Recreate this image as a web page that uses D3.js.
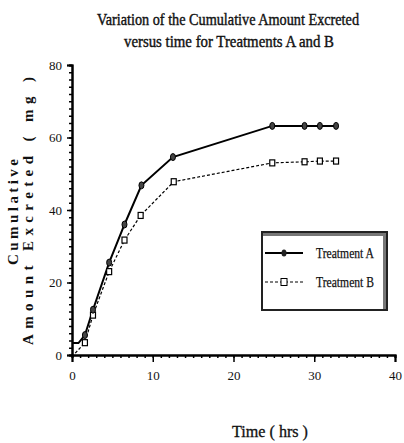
<!DOCTYPE html>
<html>
<head>
<meta charset="utf-8">
<script src="https://cdn.jsdelivr.net/npm/d3@7"></script>
<style>
  body { margin: 0; background: #fff; }
  text { font-family: "Liberation Serif", serif; fill: #111; }
</style>
</head>
<body>
<div class="canvas"></div>
<script>
// data
const timeA = [0, 0.8, 1.6, 2.6, 4.6, 6.5, 8.6, 12.5, 24.8, 28.8, 30.7, 32.7]
const amountA = [3.3, 3.3, 5.5, 12.5, 25.5, 36, 46.8, 54.6, 63.2, 63.2, 63.2, 63.2]
const timeB = [0.4, 1.6, 2.6, 4.6, 6.5, 8.5, 12.6, 24.8, 28.8, 30.7, 32.7]
const amountB = [0.5, 3.4, 11, 23, 31.7, 38.5, 47.8, 53, 53.3, 53.5, 53.5]
const xTicks = [0, 10, 20, 30, 40]
const yTicks = [0, 20, 40, 60, 80]
const seriesNames = ['Treatment A', 'Treatment B']

const W = 404, H = 443
const svg = d3.select('.canvas').append('svg').attr('width', W).attr('height', H)

const margin = {top: 65, right: 9, bottom: 88, left: 72}
const graphWidth = W - margin.left - margin.right
const graphHeight = H - margin.top - margin.bottom

const x = d3.scaleLinear().domain([0, 40]).range([0, graphWidth])
const y = d3.scaleLinear().domain([0, 80]).range([graphHeight, 0])

const graph = svg.append('g').attr('transform', `translate(${margin.left}, ${margin.top})`)

// title
svg.append('text').attr('x', 228).attr('y', 25).attr('text-anchor', 'middle')
    .attr('font-size', 16).attr('textLength', 262).attr('lengthAdjust', 'spacingAndGlyphs')
    .attr('stroke', '#111').attr('stroke-width', 0.4)
    .text('Variation of the Cumulative Amount Excreted')
svg.append('text').attr('x', 229).attr('y', 47).attr('text-anchor', 'middle')
    .attr('font-size', 16).attr('textLength', 210).attr('lengthAdjust', 'spacingAndGlyphs')
    .attr('stroke', '#111').attr('stroke-width', 0.4)
    .text('versus time for Treatments A and B')

// axes
const xAxis = d3.axisBottom(x).tickValues(d3.range(0, 41, 1)).tickSize(3).tickFormat('')
const yAxis = d3.axisLeft(y).tickValues(d3.range(0, 81, 2)).tickSize(3).tickFormat('')
graph.append('g').attr('transform', `translate(0, ${graphHeight})`).call(xAxis)
graph.append('g').call(yAxis)
graph.append('g').attr('transform', `translate(0, ${graphHeight})`)
    .call(d3.axisBottom(x).tickValues(xTicks).tickSize(7).tickPadding(9))
graph.append('g')
    .call(d3.axisLeft(y).tickValues(yTicks).tickSize(5).tickPadding(5))
graph.selectAll('.domain').attr('stroke', '#000').attr('stroke-width', 2)
graph.selectAll('.tick line').attr('stroke', '#000').attr('stroke-width', 1.5)
graph.selectAll('.tick text').attr('font-family', '"Liberation Serif", serif')
    .attr('font-size', 13).attr('fill', '#666')

// axis titles
svg.append('text').attr('x', 270).attr('y', 437).attr('text-anchor', 'middle')
    .attr('font-size', 16).attr('textLength', 76).attr('lengthAdjust', 'spacingAndGlyphs')
    .attr('stroke', '#111').attr('stroke-width', 0.3)
    .text('Time ( hrs )')
svg.append('text').attr('transform', 'translate(18, 212) rotate(-90)').attr('text-anchor', 'middle')
    .attr('font-size', 15).attr('font-weight', 'bold').attr('font-family', '"DejaVu Serif", serif')
    .attr('textLength', 106).attr('lengthAdjust', 'spacing')
    .text('Cumulative')
svg.append('text').attr('transform', 'translate(33, 211) rotate(-90)').attr('text-anchor', 'middle')
    .attr('font-size', 15).attr('font-weight', 'bold').attr('font-family', '"DejaVu Serif", serif')
    .attr('textLength', 268).attr('lengthAdjust', 'spacing')
    .text('Amount Excreted ( mg )')

// lines
const dataA = timeA.map((t, i) => ({t, v: amountA[i]}))
const dataB = timeB.map((t, i) => ({t, v: amountB[i]}))
const line = d3.line().x(d => x(d.t)).y(d => y(d.v))

graph.append('path').datum(dataB).attr('d', line).attr('fill', 'none')
    .attr('stroke', '#000').attr('stroke-width', 1.2).attr('stroke-dasharray', '3,2')
graph.append('path').datum(dataA).attr('d', line).attr('fill', 'none')
    .attr('stroke', '#000').attr('stroke-width', 2)

graph.selectAll('rect.mb').data(dataB.slice(1)).enter().append('rect').attr('class', 'mb')
    .attr('x', d => x(d.t) - 2.5).attr('y', d => y(d.v) - 3).attr('width', 5).attr('height', 6)
    .attr('fill', '#fff').attr('stroke', '#000').attr('stroke-width', 1.2)
graph.selectAll('ellipse.ma').data(dataA.slice(2)).enter().append('ellipse').attr('class', 'ma')
    .attr('cx', d => x(d.t)).attr('cy', d => y(d.v)).attr('rx', 2.5).attr('ry', 3.5)
    .attr('fill', '#444').attr('stroke', '#000').attr('stroke-width', 1)

// legend
const legend = svg.append('g').attr('transform', 'translate(262, 232)')
legend.append('rect').attr('x', 0).attr('y', 0).attr('width', 125).attr('height', 78)
    .attr('fill', '#fff').attr('stroke', '#222').attr('stroke-width', 2)
legend.append('rect').attr('x', 1).attr('y', 1).attr('width', 123).attr('height', 3).attr('fill', '#777')
legend.append('rect').attr('x', 121).attr('y', 1).attr('width', 3).attr('height', 76).attr('fill', '#777')

seriesNames.forEach((name, i) => {
  const ly = 21 + i * 29
  legend.append('line').attr('x1', 3).attr('x2', 41).attr('y1', ly).attr('y2', ly)
      .attr('stroke', '#000').attr('stroke-width', i === 0 ? 2 : 1.2)
      .attr('stroke-dasharray', i === 0 ? null : '3,2')
  if (i === 0) {
    legend.append('ellipse').attr('cx', 22).attr('cy', ly).attr('rx', 2.5).attr('ry', 3.5).attr('fill', '#222')
  } else {
    legend.append('rect').attr('x', 19).attr('y', ly - 3.5).attr('width', 6).attr('height', 7)
        .attr('fill', '#fff').attr('stroke', '#000')
  }
  legend.append('text').attr('x', 54).attr('y', ly + 5).attr('font-size', 15)
      .attr('textLength', 58).attr('lengthAdjust', 'spacingAndGlyphs')
      .attr('stroke', '#111').attr('stroke-width', 0.25).text(name)
})
</script>
</body>
</html>
